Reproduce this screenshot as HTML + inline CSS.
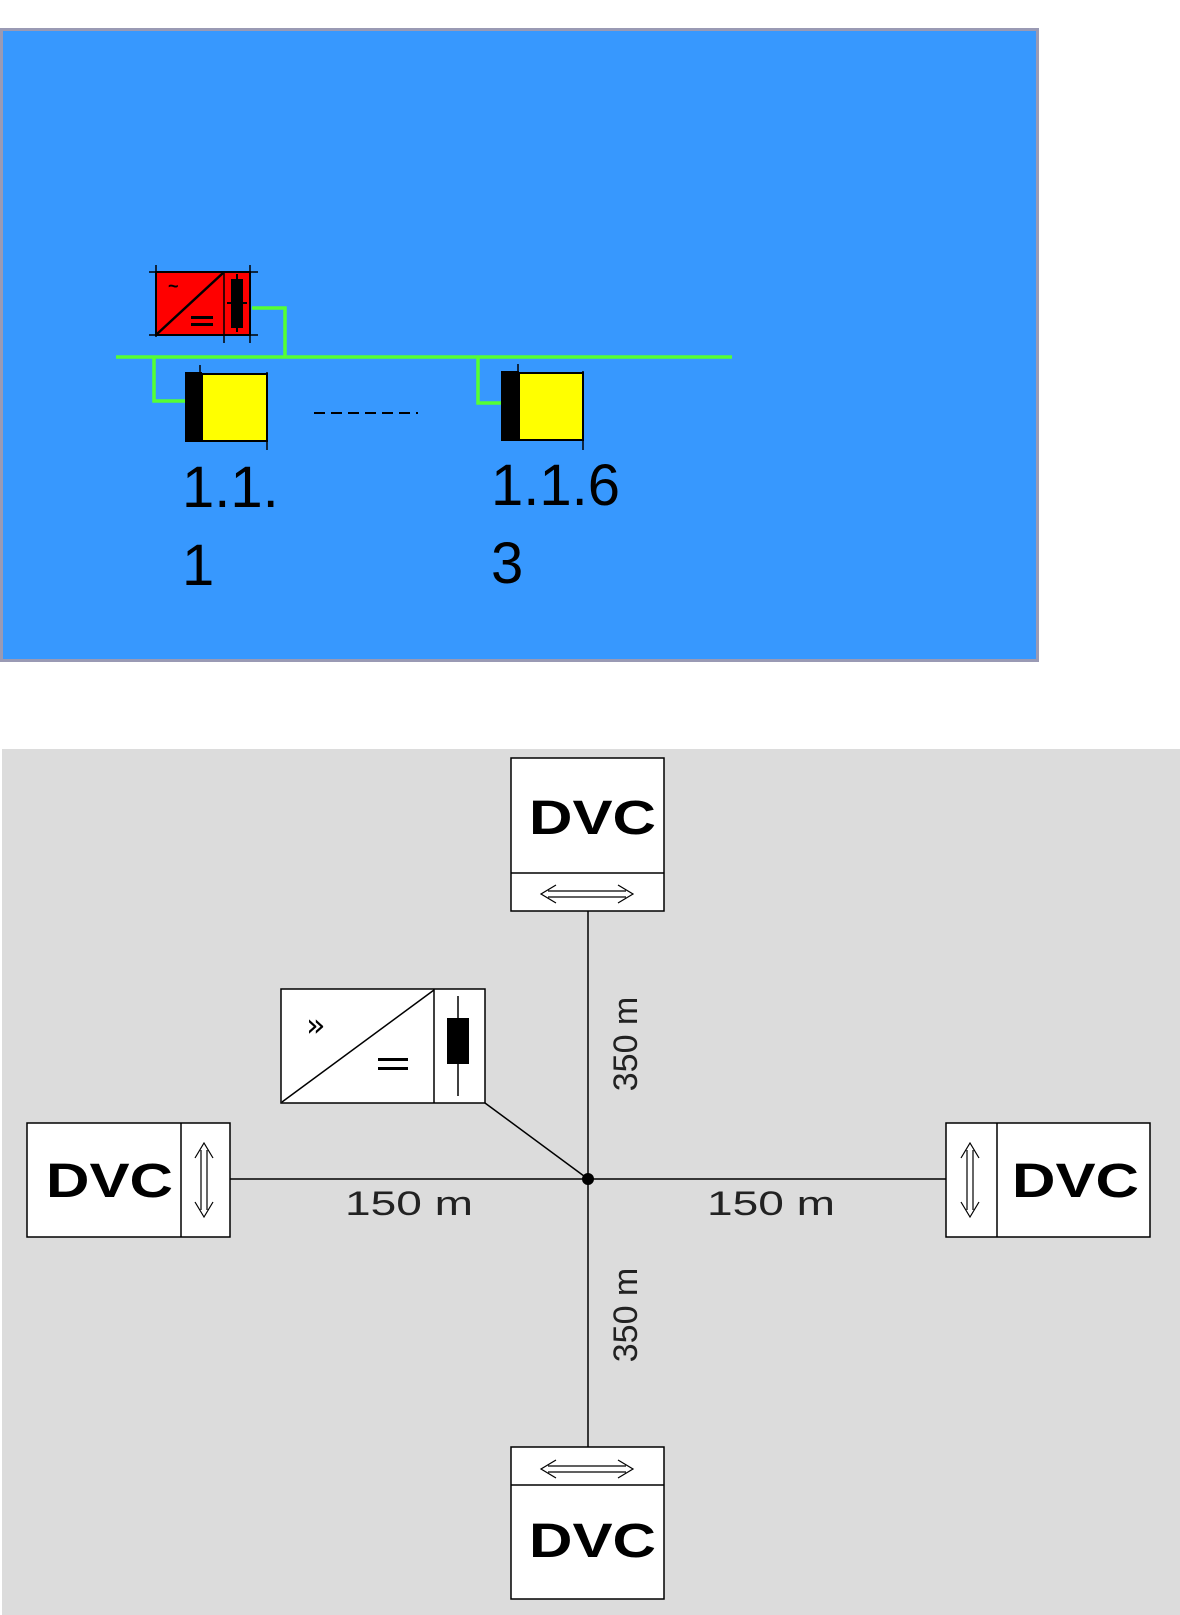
<!DOCTYPE html>
<html><head><meta charset="utf-8"><style>
html,body{margin:0;padding:0;background:#fff;}
svg{display:block;}
</style></head><body>
<svg width="1180" height="1615" viewBox="0 0 1180 1615" xmlns="http://www.w3.org/2000/svg">
<!-- top panel -->
<rect x="1.5" y="29.5" width="1036" height="631" fill="#3798fe" stroke="#9a9ab4" stroke-width="3"/>
<!-- red converter -->
<rect x="156" y="272" width="94" height="63" fill="#ff0000" stroke="#000" stroke-width="2"/>
<line x1="149" y1="272" x2="258" y2="272" stroke="#000" stroke-width="1.5"/>
<line x1="149" y1="335" x2="258" y2="335" stroke="#000" stroke-width="1.5"/>
<line x1="156" y1="265" x2="156" y2="337" stroke="#000" stroke-width="1.5"/>
<line x1="250" y1="265" x2="250" y2="343" stroke="#000" stroke-width="1.5"/>
<line x1="224" y1="272" x2="224" y2="343" stroke="#000" stroke-width="1.5"/>
<line x1="157" y1="334" x2="223" y2="273" stroke="#000" stroke-width="2.5"/>
<text x="168" y="292" font-family="Liberation Sans, sans-serif" font-size="18" font-weight="bold">~</text>
<rect x="191" y="316" width="22" height="3" fill="#000"/><rect x="191" y="323" width="22" height="3" fill="#000"/>
<rect x="231" y="279" width="12" height="49" fill="#000"/>
<line x1="237" y1="274" x2="237" y2="332" stroke="#000" stroke-width="2"/>
<line x1="227" y1="303" x2="247" y2="303" stroke="#000" stroke-width="2"/>
<!-- green lines -->
<g stroke="#55ff33" stroke-width="3.5" fill="none">
<line x1="116" y1="357" x2="732" y2="357"/>
<polyline points="252,308 285,308 285,357"/>
<polyline points="154,357 154,401 185,401"/>
<polyline points="478,357 478,403 501,403"/>
</g>
<!-- yellow boxes -->
<rect x="185" y="372" width="17" height="70" fill="#000"/>
<rect x="202" y="374" width="65" height="67" fill="#ffff00" stroke="#000" stroke-width="2"/>
<line x1="200" y1="365" x2="200" y2="373" stroke="#000" stroke-width="1.5"/>
<line x1="267" y1="372" x2="267" y2="450" stroke="#000" stroke-width="1.5"/>
<rect x="501" y="371" width="18" height="70" fill="#000"/>
<rect x="519" y="373" width="64" height="67" fill="#ffff00" stroke="#000" stroke-width="2"/>
<line x1="518" y1="364" x2="518" y2="372" stroke="#000" stroke-width="1.5"/>
<line x1="583" y1="371" x2="583" y2="450" stroke="#000" stroke-width="1.5"/>
<line x1="314" y1="413" x2="418" y2="413" stroke="#000" stroke-width="2" stroke-dasharray="11,6"/>
<g font-family="Liberation Sans, sans-serif" font-size="58" fill="#000">
<text x="182" y="507">1.1.</text><text x="182" y="585">1</text>
<text x="491" y="505">1.1.6</text><text x="491" y="583">3</text>
</g>
<!-- bottom panel -->
<rect x="2" y="749" width="1178" height="866" fill="#dcdcdc"/>
<g stroke="#000" stroke-width="1.5" fill="none">
<line x1="588" y1="911" x2="588" y2="1447"/>
<line x1="230" y1="1179" x2="946" y2="1179"/>
<line x1="485" y1="1103" x2="588" y2="1179"/>
</g>
<circle cx="588" cy="1179" r="6" fill="#000"/>
<g fill="#fff" stroke="#000" stroke-width="1.5">
<rect x="511" y="758" width="153" height="153"/>
<rect x="27" y="1123" width="203" height="114"/>
<rect x="946" y="1123" width="204" height="114"/>
<rect x="511" y="1447" width="153" height="152"/>
<rect x="281" y="989" width="204" height="114"/>
</g>
<g stroke="#000" stroke-width="1.5" fill="none">
<line x1="511" y1="873" x2="664" y2="873"/>
<line x1="511" y1="1485" x2="664" y2="1485"/>
<line x1="181" y1="1123" x2="181" y2="1237"/>
<line x1="997" y1="1123" x2="997" y2="1237"/>
<line x1="434" y1="989" x2="434" y2="1103"/>
<line x1="282" y1="1102" x2="434" y2="990"/>
<line x1="458" y1="996" x2="458" y2="1096"/>
<path d="M548,891 L626,891 M548,897 L626,897 M556,885 L541,894 L556,903 M618,885 L633,894 L618,903" stroke-width="1.2"/>
<path d="M548,1466 L626,1466 M548,1472 L626,1472 M556,1460 L541,1469 L556,1478 M618,1460 L633,1469 L618,1478" stroke-width="1.2"/>
<path d="M201,1150 L201,1210 M207,1150 L207,1210 M195,1158 L204,1143 L213,1158 M195,1202 L204,1217 L213,1202" stroke-width="1.2"/>
<path d="M967,1150 L967,1210 M973,1150 L973,1210 M961,1158 L970,1143 L979,1158 M961,1202 L970,1217 L979,1202" stroke-width="1.2"/>
</g>
<rect x="447" y="1018" width="22" height="46" fill="#000"/>
<text x="306" y="1036" font-family="DejaVu Sans, sans-serif" font-size="32">»</text>
<rect x="378" y="1058" width="30" height="3" fill="#000"/><rect x="378" y="1067" width="30" height="3" fill="#000"/>
<g font-family="Liberation Sans, sans-serif" font-weight="bold" font-size="48" fill="#000">
<text x="529" y="834" textLength="127" lengthAdjust="spacingAndGlyphs">DVC</text>
<text x="46" y="1197" textLength="127" lengthAdjust="spacingAndGlyphs">DVC</text>
<text x="1012" y="1197" textLength="127" lengthAdjust="spacingAndGlyphs">DVC</text>
<text x="529" y="1557" textLength="127" lengthAdjust="spacingAndGlyphs">DVC</text>
</g>
<g font-family="Liberation Sans, sans-serif" font-size="34" fill="#222">
<text x="345" y="1215" textLength="128" lengthAdjust="spacingAndGlyphs">150 m</text>
<text x="707" y="1215" textLength="128" lengthAdjust="spacingAndGlyphs">150 m</text>
<text transform="translate(637,1044) rotate(-90)" x="0" y="0" text-anchor="middle">350 m</text>
<text transform="translate(637,1315) rotate(-90)" x="0" y="0" text-anchor="middle">350 m</text>
</g>
</svg>
</body></html>
